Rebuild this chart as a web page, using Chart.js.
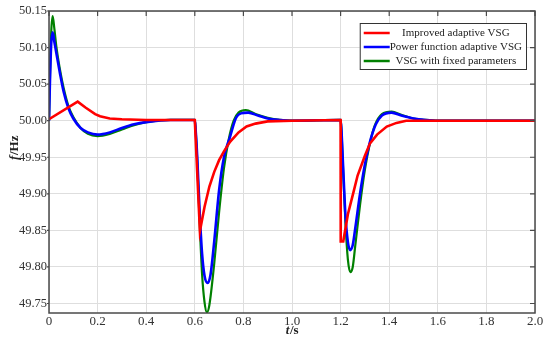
<!DOCTYPE html>
<html>
<head>
<meta charset="utf-8">
<script src="https://cdn.jsdelivr.net/npm/chart.js@4.4.0/dist/chart.umd.min.js"></script>
<style>
  html, body { margin: 0; padding: 0; background: #fff; }
  #wrap { width: 550px; height: 342px; }
</style>
</head>
<body>
<div id="wrap"><canvas id="freqChart"></canvas></div>
<script>
// axis ticks
const xTicks = [0, 0.2, 0.4, 0.6, 0.8, 1.0, 1.2, 1.4, 1.6, 1.8, 2.0];
const yTicks = [49.75, 49.80, 49.85, 49.90, 49.95, 50.00, 50.05, 50.10, 50.15];

// Improved adaptive VSG
const tRed = [0, 0.118, 0.15, 0.19, 0.21, 0.25, 0.3, 0.4, 0.6,
  0.621, 0.64, 0.66, 0.68, 0.70, 0.72, 0.745, 0.78, 0.813, 0.85, 0.9, 1.0,
  1.2, 1.2005, 1.211, 1.23, 1.252, 1.27, 1.30, 1.321, 1.35, 1.39, 1.43, 1.47, 1.55, 2.0];
const fRed = [50.002, 50.026, 50.018, 50.009, 50.006, 50.003, 50.002, 50.001, 50.001,
  49.849, 49.882, 49.910, 49.930, 49.946, 49.958, 49.971, 49.984, 49.992, 49.996, 49.999, 50.000,
  50.001, 49.835, 49.835, 49.872, 49.901, 49.925, 49.952, 49.969, 49.981, 49.992, 49.997, 50.000, 50.000, 50.000];

// Power function adaptive VSG
const tBlue = [0, 0.004, 0.009, 0.015, 0.022, 0.03, 0.045, 0.06, 0.08, 0.1, 0.13, 0.16, 0.2, 0.25, 0.3, 0.35, 0.4, 0.5, 0.6,
  0.603, 0.61, 0.62, 0.63, 0.64, 0.653, 0.665, 0.68, 0.70, 0.72, 0.745, 0.77, 0.79, 0.82, 0.86, 0.9, 0.95, 1.0,
  1.2, 1.203, 1.21, 1.22, 1.23, 1.239, 1.25, 1.26, 1.28, 1.30, 1.32, 1.345, 1.37, 1.41, 1.45, 1.5, 1.55, 1.6, 2.0];
const fBlue = [50.000, 50.055, 50.105, 50.121, 50.108, 50.093, 50.065, 50.040, 50.017, 50.003, 49.990, 49.984, 49.981, 49.984, 49.990, 49.995, 49.998, 50.001, 50.001,
  49.990, 49.950, 49.875, 49.818, 49.788, 49.778, 49.790, 49.835, 49.905, 49.950, 49.978, 50.004, 50.010, 50.011, 50.007, 50.003, 50.001, 50.000,
  50.001, 49.990, 49.940, 49.870, 49.834, 49.823, 49.830, 49.852, 49.900, 49.940, 49.970, 49.995, 50.007, 50.011, 50.007, 50.003, 50.001, 50.000, 50.000];

// VSG with fixed parameters
const tGreen = [0, 0.004, 0.009, 0.015, 0.022, 0.03, 0.045, 0.06, 0.08, 0.1, 0.13, 0.16, 0.2, 0.25, 0.3, 0.35, 0.4, 0.5, 0.6,
  0.603, 0.61, 0.62, 0.63, 0.64, 0.65, 0.66, 0.68, 0.70, 0.72, 0.74, 0.76, 0.78, 0.81, 0.85, 0.9, 0.95, 1.0,
  1.2, 1.203, 1.21, 1.22, 1.23, 1.24, 1.25, 1.26, 1.28, 1.30, 1.32, 1.34, 1.37, 1.41, 1.45, 1.5, 1.55, 1.6, 2.0];
const fGreen = [50.000, 50.060, 50.120, 50.143, 50.126, 50.102, 50.070, 50.045, 50.020, 50.005, 49.990, 49.982, 49.979, 49.982, 49.988, 49.994, 49.998, 50.001, 50.001,
  49.990, 49.945, 49.860, 49.790, 49.752, 49.738, 49.748, 49.805, 49.875, 49.935, 49.975, 50.000, 50.011, 50.0145, 50.009, 50.004, 50.001, 50.000,
  50.001, 49.990, 49.935, 49.860, 49.810, 49.793, 49.800, 49.828, 49.885, 49.933, 49.968, 49.993, 50.009, 50.0125, 50.008, 50.003, 50.001, 50.000, 50.000];

const serif = '"Liberation Serif", "Times New Roman", serif';
const pts = (ts, fs) => ts.map((t, i) => ({x: t, y: fs[i]}));

// frame with inward ticks on top/right, short outward ticks on the left
const framePlugin = {
    id: 'frame',
    afterDatasetsDraw(chart) {
        const {ctx, chartArea: a, scales: {x, y}} = chart;
        ctx.save();
        ctx.strokeStyle = '#4a4a4a';
        ctx.lineWidth = 1.5;
        ctx.strokeRect(a.left, a.top, a.right - a.left, a.bottom - a.top);
        ctx.lineWidth = 1.2;
        ctx.beginPath();
        xTicks.forEach(v => {
            const px = x.getPixelForValue(v);
            ctx.moveTo(px, a.top); ctx.lineTo(px, a.top + 5);
        });
        yTicks.forEach(v => {
            const py = y.getPixelForValue(v);
            ctx.moveTo(a.right, py); ctx.lineTo(a.right - 5, py);
            ctx.moveTo(a.left, py); ctx.lineTo(a.left - 2, py);
        });
        ctx.stroke();
        ctx.restore();
    }
};

// axis titles: italic symbol, upright unit
function mixedTitle(ctx, sym, unit) {
    const fSym = `italic bold 13px ${serif}`, fUnit = `bold 13px ${serif}`;
    ctx.font = fSym;
    const w1 = ctx.measureText(sym).width;
    ctx.font = fUnit;
    const w2 = ctx.measureText(unit).width;
    const x0 = -(w1 + w2) / 2;
    ctx.textBaseline = 'middle';
    ctx.textAlign = 'left';
    ctx.fillStyle = '#222';
    ctx.font = fSym; ctx.fillText(sym, x0, 0);
    ctx.font = fUnit; ctx.fillText(unit, x0 + w1 + 0.5, 0);
}
const titlePlugin = {
    id: 'axisTitles',
    afterDraw(chart) {
        const {ctx, chartArea: a} = chart;
        ctx.save();
        ctx.translate((a.left + a.right) / 2, a.bottom + 18);
        mixedTitle(ctx, 't', '/s');
        ctx.restore();
        ctx.save();
        ctx.translate(a.left - 34, (a.top + a.bottom) / 2 - 14);
        ctx.rotate(-Math.PI / 2);
        mixedTitle(ctx, 'f', '/Hz');
        ctx.restore();
    }
};

// boxed legend in the upper right corner
const boxLegend = {
    id: 'boxLegend',
    afterDraw(chart) {
        const {ctx, chartArea: a} = chart;
        const sets = chart.data.datasets;
        ctx.save();
        ctx.font = `11px ${serif}`;
        const w = Math.max(...sets.map(d => ctx.measureText(d.label).width));
        const lineLen = 26, rowH = 14;
        const boxW = 4 + lineLen + w + 4;
        const boxH = rowH * sets.length + 4;
        const bx = a.right - 9 - boxW, by = a.top + 12;
        ctx.fillStyle = '#fff';
        ctx.fillRect(bx, by, boxW, boxH);
        ctx.strokeStyle = '#333';
        ctx.lineWidth = 1;
        ctx.strokeRect(bx + 0.5, by + 0.5, boxW, boxH);
        sets.forEach((d, i) => {
            const cy = by + 3 + rowH * i + rowH / 2;
            ctx.strokeStyle = d.borderColor;
            ctx.lineWidth = 2.5;
            ctx.beginPath();
            ctx.moveTo(bx + 4, cy); ctx.lineTo(bx + 4 + lineLen, cy);
            ctx.stroke();
            ctx.fillStyle = '#222';
            ctx.textAlign = 'center';
            ctx.textBaseline = 'middle';
            ctx.fillText(d.label, bx + 4 + lineLen + w / 2, cy);
        });
        ctx.restore();
    }
};

new Chart(document.getElementById('freqChart'), {
    type: 'line',
    data: {
        datasets: [
            {label: 'Improved adaptive VSG', data: pts(tRed, fRed), borderColor: '#ff0000', borderWidth: 2.6, pointRadius: 0, tension: 0},
            {label: 'Power function adaptive VSG', data: pts(tBlue, fBlue), borderColor: '#0000ff', borderWidth: 2.6, pointRadius: 0, cubicInterpolationMode: 'monotone'},
            {label: 'VSG with fixed parameters', data: pts(tGreen, fGreen), borderColor: '#008000', borderWidth: 2.2, pointRadius: 0, cubicInterpolationMode: 'monotone'}
        ]
    },
    options: {
        responsive: true,
        maintainAspectRatio: false,
        animation: false,
        events: [],
        layout: {padding: {top: 11, right: 15, left: 0, bottom: 0}},
        plugins: {legend: {display: false}, tooltip: {enabled: false}},
        scales: {
            x: {
                type: 'linear', min: 0, max: 2,
                afterBuildTicks: s => { s.ticks = xTicks.map(v => ({value: v})); },
                afterFit: s => { s.height = 29; },
                grid: {color: '#dedede', lineWidth: 1, drawTicks: false},
                border: {display: false},
                ticks: {
                    padding: 1, color: '#333', maxRotation: 0,
                    font: {family: serif, size: 13},
                    callback: v => v === 0 ? '0' : v.toFixed(1)
                }
            },
            y: {
                type: 'linear', min: 49.737, max: 50.15,
                afterBuildTicks: s => { s.ticks = yTicks.map(v => ({value: v})); },
                afterFit: s => { s.width = 49; },
                grid: {color: '#dedede', lineWidth: 1, drawTicks: false},
                border: {display: false},
                ticks: {
                    padding: 2, color: '#333',
                    font: {family: serif, size: 12.5},
                    callback: v => v.toFixed(2)
                }
            }
        }
    },
    plugins: [framePlugin, titlePlugin, boxLegend]
});
</script>
</body>
</html>
